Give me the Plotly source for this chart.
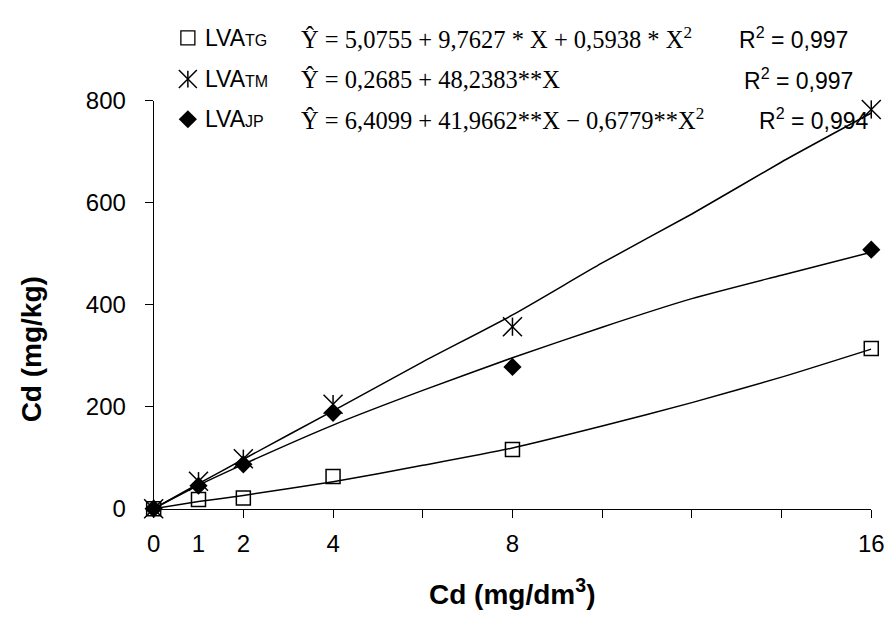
import plotly.graph_objects as go

W, H = 896, 626

# ---- data ----
doses = [0, 1, 2, 4, 8, 16]
tg_obs = [0, 18, 21, 63, 116, 314]
tm_obs = [0, 54, 98, 205, 357, 783]
jp_obs = [0, 45, 87, 188, 278, 508]

curve_x = [0, 1, 2, 4, 6, 8, 10, 12, 14, 16]
tg_curve = [0, 14, 26, 53, 85, 119, 162, 208, 258, 313]
tm_curve = [0, 49, 97, 192, 288, 380, 482, 578, 680, 776]
jp_curve = [0, 46, 87, 164, 232, 296, 356, 412, 458, 503]

x_tick_labels = [0, 1, 2, 4, 8, 16]
x_tick_marks = [0, 2, 4, 6, 8, 10, 12, 14, 16]
y_ticks = [0, 200, 400, 600, 800]

series_names = ["TG", "TM", "JP"]
equations = [
    "Ŷ = 5,0755 + 9,7627 * X + 0,5938 * X<sup>2</sup>",
    "Ŷ = 0,2685 + 48,2383**X",
    "Ŷ = 6,4099 + 41,9662**X − 0,6779**X<sup>2</sup>",
]
r2_values = ["0,997", "0,997", "0,994"]

SANS = "Liberation Sans, Arial, sans-serif"
SERIF = "Liberation Serif, Times New Roman, serif"

fig = go.Figure()

line_style = dict(color="black", width=1.5, shape="spline", smoothing=0.6)
for ys in (tg_curve, tm_curve, jp_curve):
    fig.add_trace(go.Scatter(x=curve_x, y=ys, mode="lines", line=line_style,
                             showlegend=False, hoverinfo="skip", cliponaxis=False))

fig.add_trace(go.Scatter(x=doses, y=tg_obs, mode="markers", showlegend=False, cliponaxis=False,
                         marker=dict(symbol="square-open", size=14, color="black",
                                     line=dict(width=1.5, color="black"))))
fig.add_trace(go.Scatter(x=doses, y=tm_obs, mode="markers", showlegend=False, cliponaxis=False,
                         marker=dict(symbol="x-thin-open", size=19, color="black",
                                     line=dict(width=1.5, color="black"))))
fig.add_trace(go.Scatter(x=doses, y=tm_obs, mode="markers", showlegend=False, cliponaxis=False,
                         marker=dict(symbol="line-ns-open", size=13, color="black",
                                     line=dict(width=1.5, color="black"))))
fig.add_trace(go.Scatter(x=doses, y=jp_obs, mode="markers", showlegend=False, cliponaxis=False,
                         marker=dict(symbol="diamond", size=14, color="black",
                                     line=dict(width=0, color="black"))))

# tick-label axis (overlay) -- needs a trace to be drawn
fig.add_trace(go.Scatter(x=[0], y=[0], xaxis="x3", yaxis="y", mode="markers",
                         marker=dict(opacity=0), showlegend=False, hoverinfo="skip"))

# legend rows (pixel positions on a full-figure axis pair)
row_y = [25, 68, 110]
sym_x = 185
fig.add_trace(go.Scatter(x=[sym_x], y=[row_y[0]], xaxis="x2", yaxis="y2", mode="markers",
                         showlegend=False, cliponaxis=False, hoverinfo="skip",
                         marker=dict(symbol="square-open", size=14, color="black",
                                     line=dict(width=1.3, color="black"))))
fig.add_trace(go.Scatter(x=[sym_x], y=[row_y[1]], xaxis="x2", yaxis="y2", mode="markers",
                         showlegend=False, cliponaxis=False, hoverinfo="skip",
                         marker=dict(symbol="x-thin-open", size=18, color="black",
                                     line=dict(width=1.5, color="black"))))
fig.add_trace(go.Scatter(x=[sym_x], y=[row_y[1]], xaxis="x2", yaxis="y2", mode="markers",
                         showlegend=False, cliponaxis=False, hoverinfo="skip",
                         marker=dict(symbol="line-ns-open", size=12, color="black",
                                     line=dict(width=1.5, color="black"))))
fig.add_trace(go.Scatter(x=[sym_x], y=[row_y[2]], xaxis="x2", yaxis="y2", mode="markers",
                         showlegend=False, cliponaxis=False, hoverinfo="skip",
                         marker=dict(symbol="diamond", size=14, color="black")))

x0, x1 = 150 / W, 884 / W
y0, y1 = (H - 517) / H, (H - 90.7) / H

annotations = []
r2_x = [862, 867, 884]
for i, name in enumerate(series_names):
    yp = 1 - row_y[i] / H
    annotations.append(dict(
        x=200 / W, y=yp, xref="paper", yref="paper", xanchor="left", yanchor="middle",
        showarrow=False,
        text=f"LVA<span style='font-size:16px'>{name}</span>",
        font=dict(family=SANS, size=23, color="black")))
    annotations.append(dict(
        x=299 / W, y=yp, xref="paper", yref="paper", xanchor="left", yanchor="middle",
        showarrow=False, text=equations[i],
        font=dict(family=SERIF, size=24.5, color="black")))
    annotations.append(dict(
        x=r2_x[i] / W, y=yp, xref="paper", yref="paper", xanchor="right", yanchor="middle",
        showarrow=False, text=f"R<sup>2</sup> = {r2_values[i]}",
        font=dict(family=SANS, size=23, color="black")))

annotations.append(dict(
    x=517 / W, y=1 - 604 / H, xref="paper", yref="paper",
    xanchor="center", yanchor="middle", showarrow=False,
    text="<b>Cd (mg/dm<sup>3</sup>)</b>", font=dict(family=SANS, size=28, color="black")))
annotations.append(dict(
    x=25 / W, y=1 - 350 / H, xref="paper", yref="paper", textangle=-90,
    xanchor="center", yanchor="middle", showarrow=False,
    text="<b>Cd (mg/kg)</b>", font=dict(family=SANS, size=28, color="black")))

fig.update_layout(
    width=W, height=H,
    margin=dict(l=0, r=0, t=0, b=0),
    paper_bgcolor="white", plot_bgcolor="rgba(0,0,0,0)",
    showlegend=False,
    annotations=annotations,
    xaxis=dict(domain=[x0, x1], range=[0, 16], showgrid=False, zeroline=False,
               showline=True, linecolor="black", linewidth=1,
               tickmode="array", tickvals=x_tick_marks, showticklabels=False,
               ticks="outside", ticklen=8, tickcolor="black", tickwidth=1, anchor="y"),
    xaxis3=dict(domain=[x0, x1], range=[0, 16], overlaying="x", anchor="y",
                showgrid=False, zeroline=False, showline=False,
                tickmode="array", tickvals=x_tick_labels,
                ticktext=[str(v) for v in x_tick_labels], ticks="",
                ticklabelstandoff=18, ticklabeloverflow="allow",
                tickfont=dict(family=SANS, size=24, color="black")),
    yaxis=dict(domain=[y0, y1], range=[0, 800], showgrid=False, zeroline=False,
               showline=True, linecolor="black", linewidth=1,
               tickmode="array", tickvals=y_ticks, ticks="outside", ticklen=8,
               tickcolor="black", tickwidth=1, ticklabelstandoff=14,
               tickfont=dict(family=SANS, size=24, color="black"), anchor="x"),
    xaxis2=dict(domain=[0, 1], range=[0, W], visible=False, anchor="y2", fixedrange=True),
    yaxis2=dict(domain=[0, 1], range=[H, 0], visible=False, anchor="x2", fixedrange=True),
)

fig.write_html("out.html")
